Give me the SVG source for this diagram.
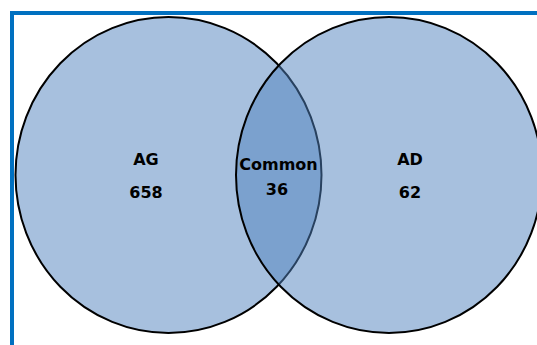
<svg xmlns="http://www.w3.org/2000/svg" width="537" height="345" viewBox="0 0 537 345">
  <style>
    .set { fill: #4F81BD; fill-opacity: 0.5; stroke: #000; stroke-width: 2; }
    .frame { fill: #0070C0; }
    .lbl { font-family: "DejaVu Sans", Verdana, sans-serif; font-weight: bold; font-size: 16px; fill: #000; text-anchor: middle; }
  </style>
  <rect width="537" height="345" fill="#fff"/>
  <g id="frame">
    <rect class="frame" x="10" y="11" width="527" height="4"/>
    <rect class="frame" x="10" y="11" width="4" height="334"/>
  </g>
  <g id="set-ag">
    <ellipse class="set" cx="168.5" cy="175" rx="153" ry="158"/>
    <text class="lbl" x="146" y="165">AG</text>
    <text class="lbl" x="146" y="198">658</text>
  </g>
  <g id="set-ad">
    <ellipse class="set" cx="389" cy="175" rx="153" ry="158"/>
    <text class="lbl" x="410" y="165">AD</text>
    <text class="lbl" x="410" y="198">62</text>
  </g>
  <g id="common">
    <text class="lbl" x="278.5" y="170">Common</text>
    <text class="lbl" x="277" y="195">36</text>
  </g>
</svg>
